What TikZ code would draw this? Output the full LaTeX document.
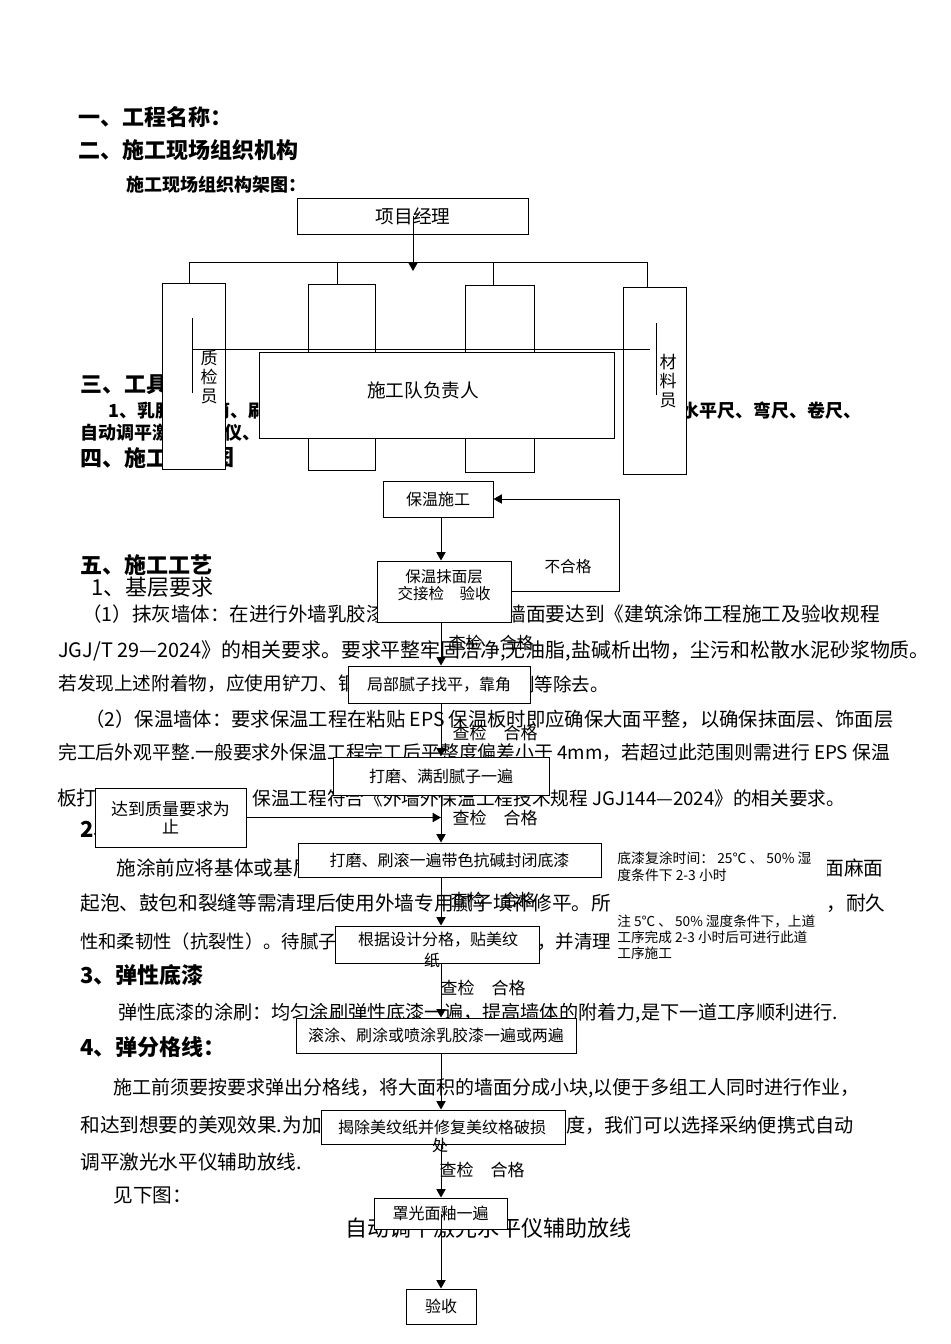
\documentclass[tikz,border=0pt]{standalone}
\usepackage{fontspec}
\setmainfont{Noto Sans CJK SC}
\usetikzlibrary{arrows.meta}
\newcommand{\setfs}[1]{\fontsize{#1}{#1}\selectfont}

\begin{document}
\begin{tikzpicture}[x=0.6pt, y=-0.6pt,
    hd/.style={anchor=west, inner sep=0pt, font=\bfseries\setfs{13.2}},
    sb/.style={anchor=west, inner sep=0pt, font=\bfseries\setfs{10.8}},
    tx/.style={anchor=west, inner sep=0pt, font=\setfs{11.8}},
    bx/.style={draw, fill=white, line width=0.6pt, inner sep=0pt, font=\setfs{9.6}},
    bsz/.style 2 args={minimum width=#1*0.6pt, minimum height=#2*0.6pt},
    lbl/.style={inner sep=0pt, font=\setfs{10.2}},
    arr/.style={-{Triangle[length=5pt,width=5.5pt]}, line width=0.6pt},
    nt/.style={anchor=west, inner sep=0pt, align=left}]
    % поле страницы
    \useasboundingbox (0,0) rectangle (950,1344);

    % заголовки
    \node[hd] (h1) at (78,117) {一、工程名称：};
    \node[hd] (h2) at (78,150) {二、施工现场组织机构};
    \node[sb] (h2a) at (126,185) {施工现场组织构架图：};
    \node[hd] (h3) at (80,385) {三、工具};
    \node[sb] (t1a) at (108,411) {1、乳胶};
    \node[sb] (t1b) at (212,411) {筒、刷};
    \node[sb] (t1c) at (681,411) {水平尺、弯尺、卷尺、};
    \node[sb] (t2) at (80,433) {自动调平激光水平仪、};
    \node[hd] (h4a) at (80,458) {四、施工};
    \node[hd] (h4b) at (212,458) {图};
    \node[hd] (h5) at (80,565) {五、施工工艺};
    \node[tx, font=\setfs{13.2}] (h51) at (91,587) {1、基层要求};

    % текст
    \node[tx, font=\setfs{11.7}] (p1a) at (82,614) {（1）抹灰墙体：在进行外墙乳胶漆};
    \node[tx] (p1b) at (506,614) {墙面要达到《建筑涂饰工程施工及验收规程};
    \node[tx, font=\setfs{11.95}] (p2) at (58,651) {JGJ/T 29—2024》的相关要求。要求平整牢固洁净,无油脂,盐碱析出物，尘污和松散水泥砂浆物质。};
    \node[tx, font=\setfs{11.2}] (p3a) at (58,684) {若发现上述附着物，应使用铲刀、钢};
    \node[tx, font=\setfs{11.1}] (p3b) at (516,684) {刷等除去。};
    \node[tx, font=\setfs{11.6}] (p4) at (85,719) {（2）保温墙体：要求保温工程在粘贴 EPS 保温板时即应确保大面平整，以确保抹面层、饰面层};
    \node[tx, font=\setfs{11.3}] (p5) at (58,752) {完工后外观平整.一般要求外保温工程完工后平整度偏差小于 4mm，若超过此范围则需进行 EPS 保温};
    \node[tx] (p6a) at (57,798) {板打};
    \node[tx, font=\setfs{11.2}] (p6b) at (252,798) {保温工程符合《外墙外保温工程技术规程 JGJ144—2024》的相关要求。};
    \node[hd] (h52) at (80,830) {2、};
    \node[tx] (p7a) at (116,868) {施涂前应将基体或基层};
    \node[tx] (p7b) at (824,868) {面麻面};
    \node[tx] (p8a) at (80,903) {起泡、鼓包和裂缝等需清理后使用外墙专用腻子填补修平。所};
    \node[tx] (p8b) at (826,903) {，耐久};
    \node[tx, font=\setfs{11}] (p9a) at (80,942) {性和柔韧性（抗裂性）。待腻子};
    \node[tx, font=\setfs{11.1}] (p9b) at (537,942) {，并清理};
    \node[hd] (h53) at (80,975) {3、弹性底漆};
    \node[tx, font=\setfs{11.5}] (p10) at (118,1013) {弹性底漆的涂刷：均匀涂刷弹性底漆一遍，提高墙体的附着力,是下一道工序顺利进行.};
    \node[hd] (h54) at (80,1047) {4、弹分格线：};
    \node[tx, font=\setfs{11.4}] (p11) at (113,1088) {施工前须要按要求弹出分格线，将大面积的墙面分成小块,以便于多组工人同时进行作业，};
    \node[tx] (p12a) at (80,1125) {和达到想要的美观效果.为加快};
    \node[tx, font=\setfs{11.5}] (p12b) at (566,1125) {度，我们可以选择采纳便携式自动};
    \node[tx] (p13) at (80,1162) {调平激光水平仪辅助放线.};
    \node[tx] (p14) at (113,1195) {见下图：};
    \node[tx, font=\setfs{13.2}] (cap) at (345,1228) {自动调平激光水平仪辅助放线};

    % оргструктура
    \node[bx, bsz={231}{36}, font=\setfs{11.2}] (pm) at (413,216) {项目经理};
    \node[bx, bsz={63}{186}] (b1) at (193.5,376) {};
    \node[bx, bsz={67}{186}] (b2) at (341.5,377) {};
    \node[bx, bsz={69}{187}] (b3) at (499.5,378.5) {};
    \node[bx, bsz={63}{187}] (b4) at (654.5,380.5) {};
    \coordinate (k1) at (189,262);
    \coordinate (k4) at (647,262);
    \draw[line width=0.6pt] (b1.north -| k1) -- (k1) -- (k4) -- (b4.north -| k4);
    \draw[line width=0.6pt] (337,262) -- (b2.north -| 337,0);
    \draw[line width=0.6pt] (493,262) -- (b3.north -| 493,0);
    \draw[arr] (pm.center) -- (pm.center |- 0,271);
    \draw[line width=0.6pt] (192,318) -- (192,393);
    \draw[line width=0.6pt] (192,349) -- (650,349);
    \draw[line width=0.6pt] (656,323) -- (656,395);
    \node[align=center, inner sep=0pt, font=\fontsize{10.2}{11.4}\selectfont] (zj) at (209,377) {质\\检\\员};
    \node[align=center, inner sep=0pt, font=\fontsize{10.2}{11.4}\selectfont] (cl) at (668,381) {材\\料\\员};
    \node[bx, bsz={355}{86}] (b5) at (436.5,395) {};
    \node[inner sep=0pt, font=\setfs{11.2}] (sg) at (423,390) {施工队负责人};

    % схема работ
    \node[bx, bsz={110}{36}] (bw) at (438,499) {保温施工};
    \node[bx, bsz={134}{61}] (bm) at (444,591.5) {};
    \node[align=center, inner sep=0pt, font=\fontsize{9.3}{10.2}\selectfont] (bmt) at (444,585.5) {保温抹面层\\交接检　验收};
    \node[bx, bsz={182}{37}] (jb) at (439,684.5) {局部腻子找平，靠角};
    \node[bx, bsz={216}{38}] (dm) at (441,776) {打磨、满刮腻子一遍};
    \node[bx, bsz={151}{59}, align=center, font=\fontsize{10.2}{10.8}\selectfont] (dd) at (170.5,817.5) {达到质量要求为\\止};
    \node[bx, bsz={303}{34}] (dc) at (449.5,860) {打磨、刷滚一遍带色抗碱封闭底漆};
    \node[bx, bsz={204}{37}] (gj) at (437,944.5) {};
    \node[inner sep=0pt, font=\setfs{9.6}] (gjt) at (438,940) {根据设计分格，贴美纹};
    \node[inner sep=0pt, font=\setfs{9.6}] (gjt2) at (432,960) {纸};
    \node[bx, bsz={280}{35}] (gt) at (436,1035.5) {滚涂、刷涂或喷涂乳胶漆一遍或两遍};
    \node[bx, bsz={244}{34}] (jc) at (443,1127) {};
    \node[inner sep=0pt, font=\setfs{9.6}] (jct) at (442,1127) {揭除美纹纸并修复美纹格破损};
    \node[inner sep=0pt, font=\setfs{9.6}] (jct2) at (440,1145) {处};
    \node[bx, bsz={133}{31}] (zg) at (440.5,1213.5) {罩光面釉一遍};
    \node[bx, bsz={70}{35}] (ys) at (441,1306.5) {验收};

    % стрелки
    \coordinate (ax) at (441,0);
    \coordinate (lp) at (619,499);
    \draw[arr] (bw.south -| ax) -- (bm.north -| ax);
    \draw[arr] (bm.south -| ax) -- (jb.north -| ax);
    \draw[arr] (jb.south -| ax) -- (dm.north -| ax);
    \draw[arr] (dm.south -| ax) -- (dc.north -| ax);
    \draw[arr] (dd.east) -- (dd.east -| ax);
    \draw[arr] (dc.south -| ax) -- (gj.north -| ax);
    \draw[arr] (gj.south -| ax) -- (gt.north -| ax);
    \draw[arr] (gt.south -| ax) -- (jc.north -| ax);
    \draw[arr] (jc.south -| ax) -- (zg.north -| ax);
    \draw[arr] (zg.center -| ax) -- (ys.north -| ax);
    \draw[arr] (bm.east) -| (lp) -- (bw.east);

    % подписи
    \node[lbl, font=\setfs{9.4}] (bhg) at (568,567) {不合格};
    \node[lbl] (c1) at (491,643) {查检　合格};
    \node[lbl] (c2) at (495,733) {查检　合格};
    \node[lbl] (c3) at (495,818) {查检　合格};
    \node[lbl] (c4) at (493,900) {查检　合格};
    \node[lbl] (c5) at (483,988) {查检　合格};
    \node[lbl] (c6) at (482,1170) {查检　合格};

    % примечания
    \fill[white] (612,845) rectangle (827,965);
    \node[nt, font=\fontsize{8.3}{10.2}\selectfont] (n1) at (617,867) {底漆复涂时间：\ 25℃ 、 50\% 湿\\度条件下 2-3 小时};
    \node[nt, font=\fontsize{8.2}{9.6}\selectfont] (n2) at (617,937) {注 5℃ 、 50\% 湿度条件下，上道\\工序完成 2-3 小时后可进行此道\\工序施工};
\end{tikzpicture}
\end{document}
